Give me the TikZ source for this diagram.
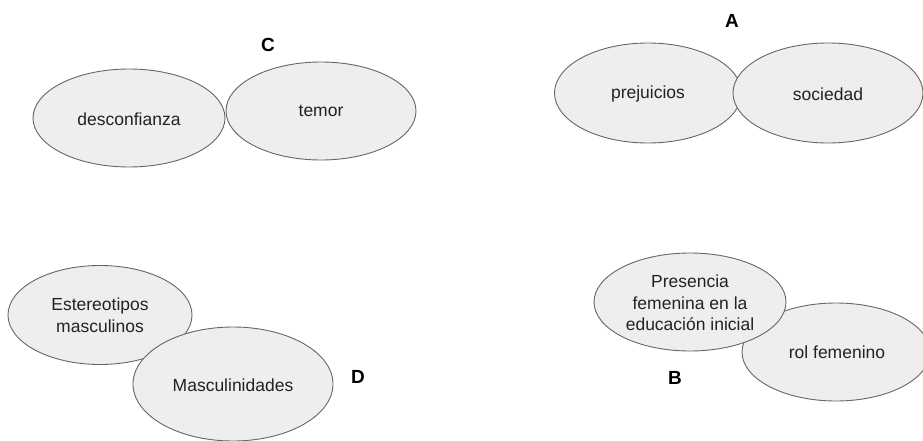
\documentclass[tikz,border=0pt]{standalone}
\usepackage{fontspec}
\setmainfont{Liberation Sans}
\usetikzlibrary{shapes.geometric}
\definecolor{blobfill}{HTML}{EEEEEE}
\definecolor{blobline}{HTML}{666666}
\definecolor{txtcol}{HTML}{222222}
\begin{document}
\begin{tikzpicture}[x=1pt,y=-1pt,
  blob/.style={ellipse, draw=blobline, fill=blobfill, line width=0.9pt, inner sep=0pt, outer sep=0pt},
  txt/.style={text=txtcol, font=\fontsize{17.5}{21.5}\selectfont, align=center, inner sep=0pt},
  tag/.style={text=black, font=\fontsize{19}{22}\selectfont\bfseries, inner sep=0pt}]
\useasboundingbox (0,0) rectangle (923,441);
% group C
\node[blob, minimum width=192pt, minimum height=98pt] (desc) at (129,118) {};
\node[txt] (desct) at (129,119) {desconfianza};
\node[blob, minimum width=190pt, minimum height=98pt] (temor) at (321,111) {};
\node[txt] (temort) at (321,111) {temor};
\node[tag] (C) at (268,45) {C};
% group A
\node[blob, minimum width=187pt, minimum height=100pt] (prej) at (648,93) {};
\node[txt] (prejt) at (648,94) {prejuicios};
\node[blob, minimum width=190pt, minimum height=100pt] (soc) at (828,93) {};
\node[txt] (soct) at (828,94) {sociedad};
\node[tag] (A) at (732,21) {A};
% group D
\node[blob, minimum width=184pt, minimum height=99pt] (este) at (100,315) {};
\node[txt] (estet) at (100,315) {Estereotipos\\masculinos};
\node[blob, minimum width=200pt, minimum height=114pt] (masc) at (233,384) {};
\node[txt] (masct) at (233,385) {Masculinidades};
\node[tag] (D) at (358,377) {D};
% group B
\node[blob, minimum width=188pt, minimum height=98pt] (rol) at (836,352) {};
\node[txt] (rolt) at (837,352) {rol femenino};
\node[blob, minimum width=192pt, minimum height=98pt] (pres) at (690,302) {};
\node[txt] (prest) at (690,303) {Presencia\\femenina en la\\educación inicial};
\node[tag] (B) at (675,378) {B};
\end{tikzpicture}
\end{document}
